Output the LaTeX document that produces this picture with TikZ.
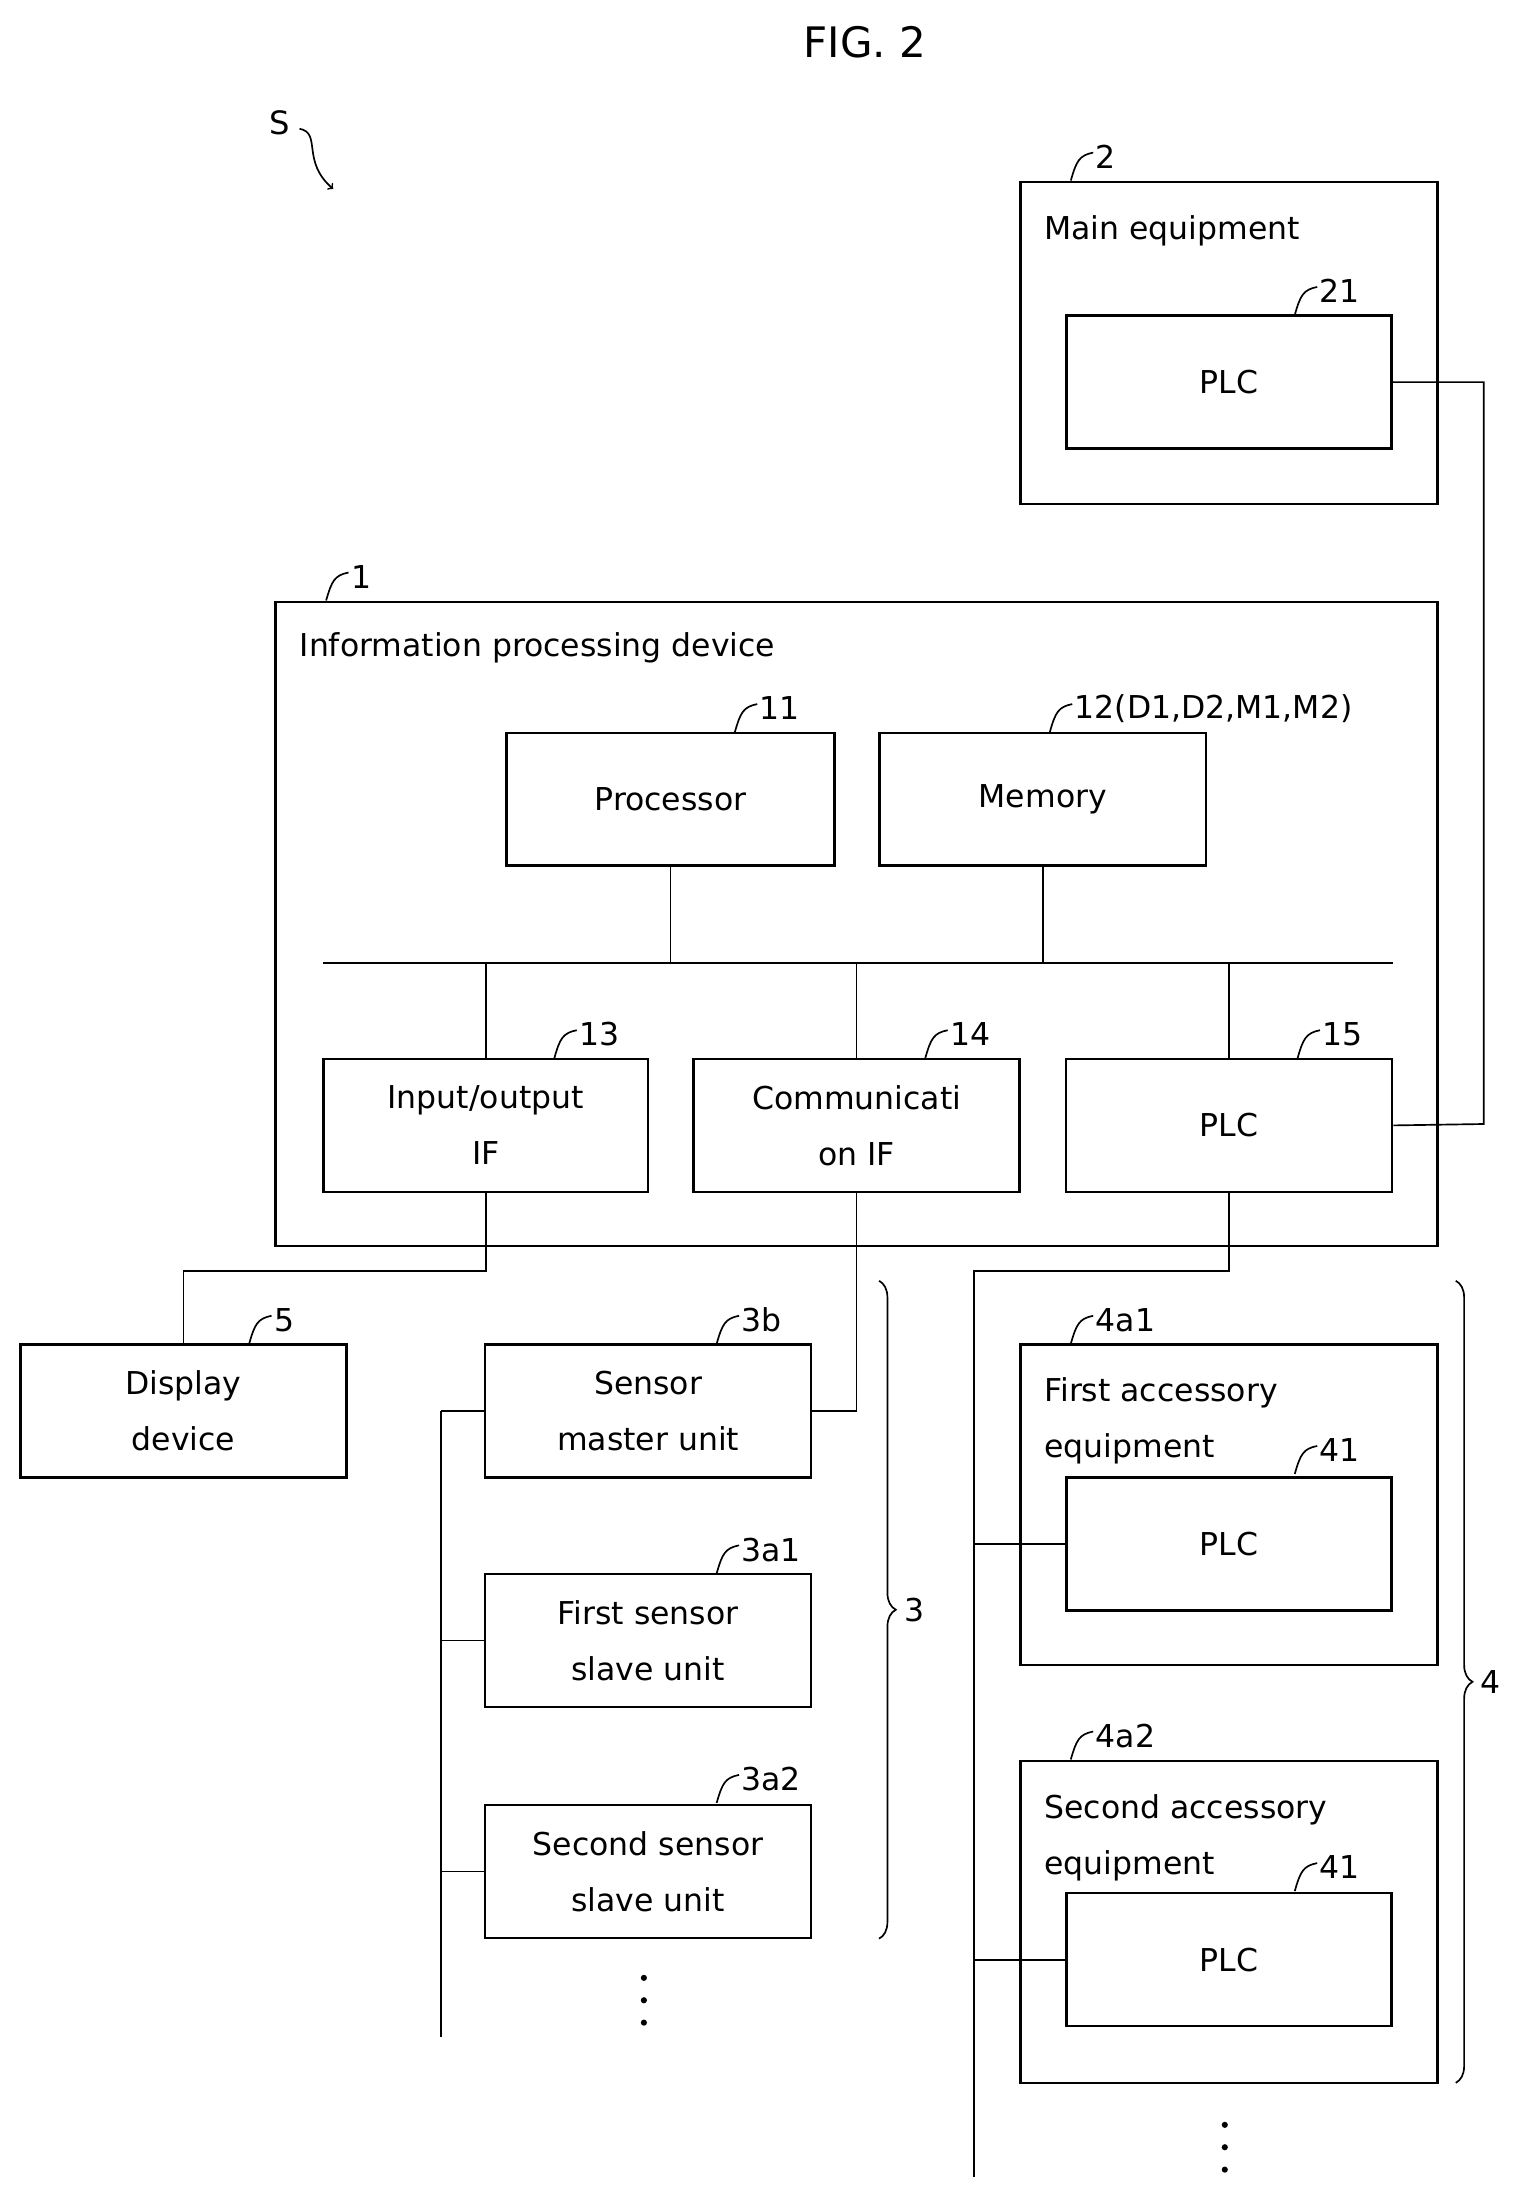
\documentclass[tikz,border=0pt]{standalone}
\usepackage{fontspec}
\setmainfont{DejaVu Sans}
\usetikzlibrary{decorations.pathreplacing}
\begin{document}
\begin{tikzpicture}[x=1pt,y=-1pt,line width=1.6pt,
  box/.style={draw,rectangle,line width=1.8pt},
  txt/.style={font=\fontsize{22.5}{40}\selectfont,align=center},
  lbl/.style={font=\fontsize{22.5}{25}\selectfont,anchor=west,inner sep=1pt},
  ln/.style={line width=1.2pt}]
\useasboundingbox (0,0) rectangle (1100,1571);
\newcommand{\lead}[3]{\draw[ln] (#1) ++(0,0) .. controls +(4,-14) and +(-10,2) .. ++(16,-20) coordinate (tmp); \node[lbl] at ([yshift=-3]tmp) {#3};}
\node[font=\fontsize{30}{30}\selectfont] (fig) at (618,30) {FIG. 2};
\node[font=\fontsize{23}{24}\selectfont] (s) at (200,88) {S};
\coordinate (sa) at (214,92); \coordinate (sb) at (238,135);
\draw[ln,->] (sa) .. controls (230,95) and (215,115) .. (sb);
% Main equipment
\node[box,minimum width=298,minimum height=230] (b2) at (878,245) {};
\node[txt,anchor=west] (t2) at (742,165) {Main equipment};
\node[box,minimum width=232,minimum height=95,txt] (plc21) at (878,273) {PLC};
\coordinate (l2) at (765,129); \lead{l2}{}{2}
\coordinate (l21) at (925,225); \lead{l21}{}{21}
% info device
\node[box,minimum width=830,minimum height=460] (b1) at (612,660) {};
\node[txt,anchor=west] (t1) at (210,463) {Information processing device};
\coordinate (l1) at (233,429); \lead{l1}{}{1}
\node[box,minimum width=234,minimum height=95,txt] (proc) at (479,571) {Processor};
\node[box,minimum width=233,minimum height=95,txt] (mem) at (745,571) {Memory};
\coordinate (l11) at (525,523); \lead{l11}{}{11}
\coordinate (l12) at (750,523); \lead{l12}{}{12(D1,D2,M1,M2)}
\coordinate (busl) at (231,688); \coordinate (busr) at (995,688);
\draw[ln] (busl) -- (busr);
\draw[ln] (proc.south) -- (proc.south |- busl);
\draw[ln] (mem.south) -- (mem.south |- busl);
\node[box,minimum width=232,minimum height=95,txt] (io) at (347,804) {Input/output\\IF};
\node[box,minimum width=233,minimum height=95,txt] (com) at (612,804) {Communicati\\on IF};
\node[box,minimum width=233,minimum height=95,txt] (plc15) at (878,804) {PLC};
\foreach \n in {io,com,plc15} \draw[ln] (\n.north) -- (\n.north |- busl);
\coordinate (l13) at (396,756); \lead{l13}{}{13}
\coordinate (l14) at (661,756); \lead{l14}{}{14}
\coordinate (l15) at (927,756); \lead{l15}{}{15}
\draw[ln] (plc21.east) -- (1060,273) -- (1060,803) -- (plc15.east);
% display
\node[box,minimum width=233,minimum height=95,txt] (disp) at (131,1008) {Display\\device};
\coordinate (l5) at (178,960); \lead{l5}{}{5}
\draw[ln] (io.south) -- (347,908) -- (131,908) -- (disp.north);
% sensors
\node[box,minimum width=233,minimum height=95,txt] (sm) at (463,1008) {Sensor\\master unit};
\node[box,minimum width=233,minimum height=95,txt] (s1) at (463,1172) {First sensor\\slave unit};
\node[box,minimum width=233,minimum height=95,txt] (s2) at (463,1337) {Second sensor\\slave unit};
\coordinate (l3b) at (512,960); \lead{l3b}{}{3b}
\coordinate (l3a1) at (512,1124); \lead{l3a1}{}{3a1}
\coordinate (l3a2) at (512,1288); \lead{l3a2}{}{3a2}
\draw[ln] (com.south) -- (612,1008) -- (sm.east);
\coordinate (sbt) at (315,1008); \coordinate (sbb) at (315,1455);
\draw[ln] (sbt) -- (sbb);
\draw[ln] (sbt) -- (sm.west); \draw[ln] (315,1172) -- (s1.west); \draw[ln] (315,1337) -- (s2.west);
\foreach \y in {1413,1429,1445} \fill (460,\y) circle (2.2);
\draw[ln,decorate,decoration={brace,amplitude=12pt}] (628,915) -- (628,1385) node[midway,right=14pt,txt] (br3) {3};
% accessories
\draw[ln] (plc15.south) -- (878,908) -- (696,908) -- (696,1555);
\node[box,minimum width=298,minimum height=229] (a1) at (878,1075) {};
\node[txt,anchor=west,align=left] (ta1) at (742,1015) {First accessory\\equipment};
\node[box,minimum width=232,minimum height=95,txt] (p41a) at (878,1103) {PLC};
\coordinate (l4a1) at (765,960); \lead{l4a1}{}{4a1}
\coordinate (l41a) at (925,1053); \lead{l41a}{}{41}
\draw[ln] (696,1103) -- (p41a.west);
\node[box,minimum width=298,minimum height=230] (a2) at (878,1373) {};
\node[txt,anchor=west,align=left] (ta2) at (742,1313) {Second accessory\\equipment};
\node[box,minimum width=232,minimum height=95,txt] (p41b) at (878,1400) {PLC};
\coordinate (l4a2) at (765,1257); \lead{l4a2}{}{4a2}
\coordinate (l41b) at (925,1351); \lead{l41b}{}{41}
\draw[ln] (696,1400) -- (p41b.west);
\foreach \y in {1518,1534,1550} \fill (875,\y) circle (2.2);
\draw[ln,decorate,decoration={brace,amplitude=12pt}] (1040,915) -- (1040,1488) node[midway,right=14pt,txt] (br4) {4};
\end{tikzpicture}
\end{document}
